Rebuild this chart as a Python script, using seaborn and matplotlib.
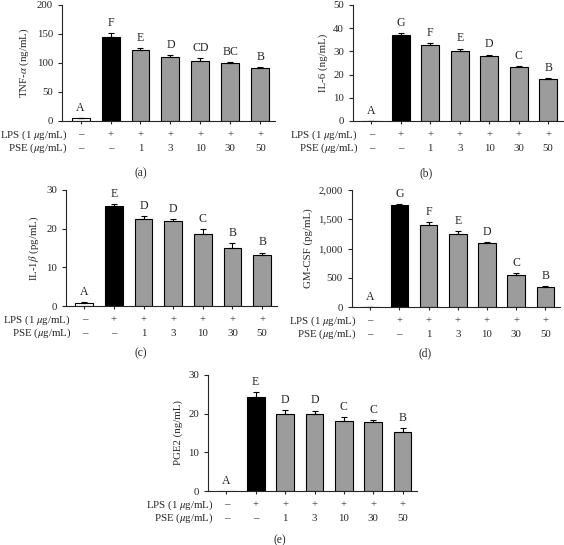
import numpy as np
import pandas as pd
import matplotlib
matplotlib.use("Agg")
import matplotlib.pyplot as plt
import matplotlib.ticker as mticker
import seaborn as sns

# groups shared by every panel
groups = ["ctrl", "lps", "1", "3", "10", "30", "50"]
lps_row = ["\u2013", "+", "+", "+", "+", "+", "+"]
pse_row = ["\u2013", "\u2013", "1", "3", "10", "30", "50"]

# (a) TNF-alpha
tnf_vals = [5, 145, 122, 111, 104, 99.4, 91]
tnf_err = [0, 7, 3.5, 3, 4.5, 2, 2.5]
tnf_let = ["A", "F", "E", "D", "CD", "BC", "B"]

# (b) IL-6
il6_vals = [0.1, 37.2, 32.9, 30.2, 27.8, 23.1, 18.0]
il6_err = [0, 0.5, 0.6, 1.0, 0.8, 0.4, 0.4]
il6_let = ["A", "G", "F", "E", "D", "C", "B"]

# (c) IL-1beta
il1_vals = [0.77, 25.9, 22.6, 21.9, 18.5, 14.9, 13.3]
il1_err = [0.25, 0.5, 0.7, 0.6, 1.3, 1.3, 0.5]
il1_let = ["A", "E", "D", "D", "C", "B", "B"]

# (d) GM-CSF
gm_vals = [5, 1746, 1402, 1242, 1088, 555, 343]
gm_err = [0, 17, 52, 52, 17, 23, 18]
gm_let = ["A", "G", "F", "E", "D", "C", "B"]

# (e) PGE2
pge_vals = [-0.2, 24.2, 19.9, 20.0, 18.1, 17.9, 15.3]
pge_err = [0, 1.4, 1.0, 0.8, 1.1, 0.5, 1.0]
pge_let = ["A", "E", "D", "D", "C", "C", "B"]

sns.set_style("ticks")
plt.rcParams["font.family"] = ["Liberation Serif", "DejaVu Serif"]
plt.rcParams["mathtext.fontset"] = "stix"
plt.rcParams["axes.linewidth"] = 0.8

colors = ["white", "black"] + ["#9c9c9c"] * 5
fs = 7.8

fig = plt.figure(figsize=(5.64, 5.45), dpi=100)


def panel(rect, vals, errs, letters, ylim, yticks, ylabel, fmt=None):
    ax = fig.add_axes(rect)
    df = pd.DataFrame({"grp": groups, "val": vals})
    sns.barplot(data=df, x="grp", y="val", hue="grp", palette=colors,
                order=groups, hue_order=groups, legend=False,
                edgecolor="black", linewidth=0.8, width=0.6, ax=ax)
    x = np.arange(len(groups))
    top = np.array(vals) + np.array(errs)
    ax.errorbar(x, vals, yerr=[np.zeros(len(errs)), errs], fmt="none",
                ecolor="black", elinewidth=0.8, capsize=2.5, capthick=0.8)
    for i, l in enumerate(letters):
        ax.annotate(l, (i, max(top[i], 0)), xytext=(0, 3),
                    textcoords="offset points", ha="center", va="bottom",
                    fontsize=fs + 0.7)
    ax.set_xlim(-0.62, 6.5)
    ax.set_ylim(*ylim)
    ax.set_yticks(yticks)
    if fmt:
        ax.yaxis.set_major_formatter(mticker.StrMethodFormatter(fmt))
    ax.set_xticks(x)
    ax.set_xticklabels([])
    ax.tick_params(axis="both", labelsize=fs, length=3, width=0.8)
    ax.tick_params(axis="x", length=2)
    ax.set_xlabel("")
    ax.set_ylabel(ylabel, fontsize=fs, labelpad=4)
    sns.despine(ax=ax)
    tr = ax.get_xaxis_transform()
    for i in range(len(groups)):
        ax.text(i, -0.12, lps_row[i], transform=tr, ha="center", va="center", fontsize=fs)
        ax.text(i, -0.235, pse_row[i], transform=tr, ha="center", va="center", fontsize=fs)
    ax.text(-0.45, -0.12, "LPS (1 $\\mu$g/mL)", transform=tr, ha="right", va="center", fontsize=fs)
    ax.text(-0.45, -0.235, "PSE ($\\mu$g/mL)", transform=tr, ha="right", va="center", fontsize=fs)
    return ax


panel([0.110, 0.778, 0.378, 0.213], tnf_vals, tnf_err, tnf_let,
      (0, 200), [0, 50, 100, 150, 200], "TNF-$\\alpha$ (ng/mL)")
panel([0.626, 0.778, 0.372, 0.213], il6_vals, il6_err, il6_let,
      (0, 50), [0, 10, 20, 30, 40, 50], "IL-6 (ng/mL)")
panel([0.117, 0.4385, 0.374, 0.213], il1_vals, il1_err, il1_let,
      (0, 30), [0, 10, 20, 30], "IL-1$\\beta$ (pg/mL)")
panel([0.624, 0.4365, 0.369, 0.215], gm_vals, gm_err, gm_let,
      (0, 2000), [0, 500, 1000, 1500, 2000], "GM-CSF (pg/mL)", fmt="{x:,.0f}")
panel([0.369, 0.099, 0.371, 0.213], pge_vals, pge_err, pge_let,
      (0, 30), [0, 10, 20, 30], "PGE2 (ng/mL)")

fig.text(141 / 564, 1 - 173 / 545, "(a)", ha="center", va="center", fontsize=fs + 0.5)
fig.text(426 / 564, 1 - 173 / 545, "(b)", ha="center", va="center", fontsize=fs + 0.5)
fig.text(141 / 564, 1 - 353 / 545, "(c)", ha="center", va="center", fontsize=fs + 0.5)
fig.text(425 / 564, 1 - 353 / 545, "(d)", ha="center", va="center", fontsize=fs + 0.5)
fig.text(280 / 564, 1 - 540 / 545, "(e)", ha="center", va="center", fontsize=fs + 0.5)

fig.savefig("out.png", dpi=100)
